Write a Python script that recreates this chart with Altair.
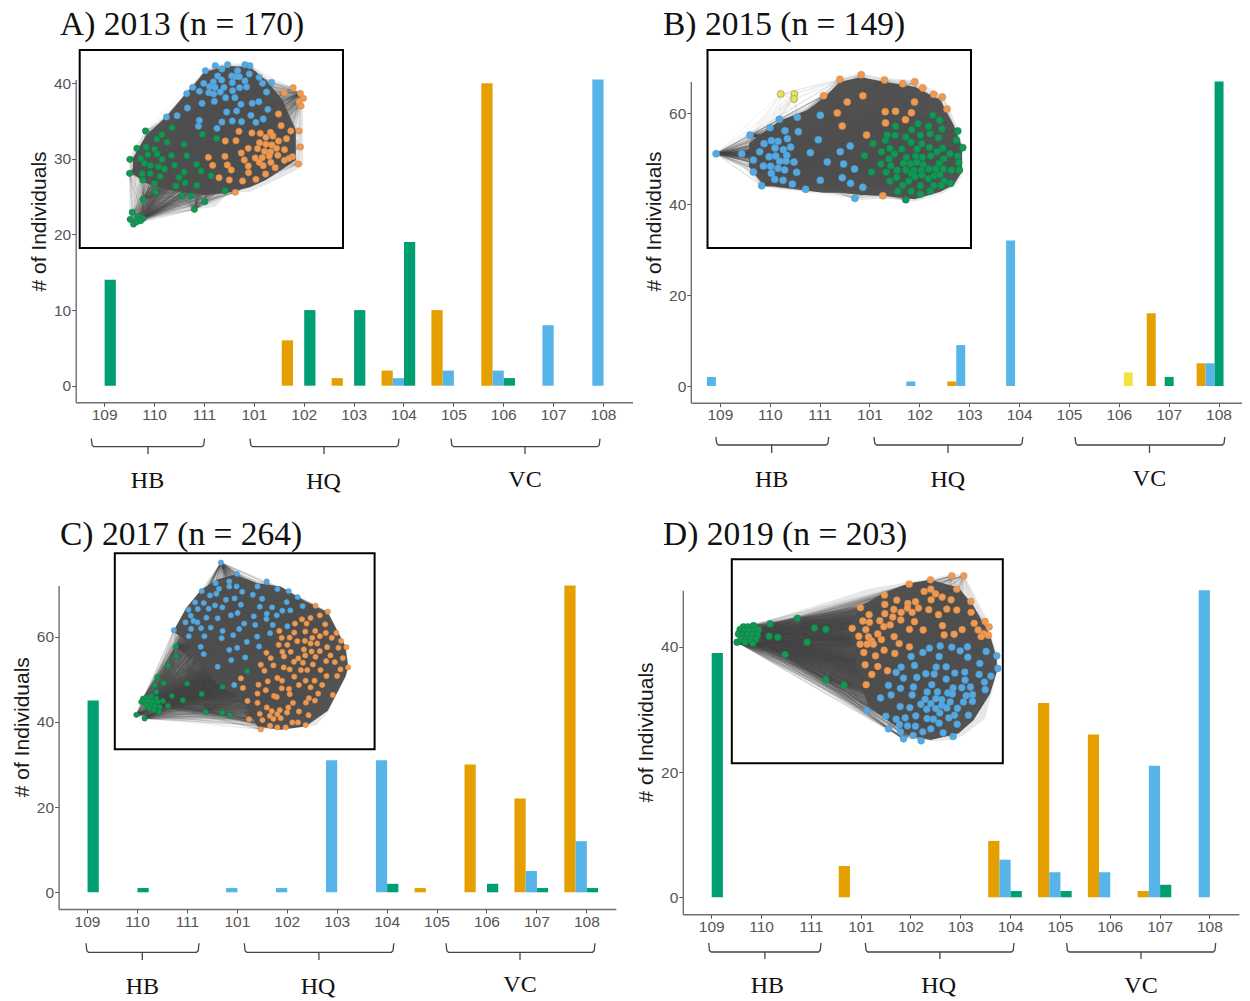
import altair as alt
import pandas as pd

alt.data_transformers.disable_max_rows()

CATS = ["109","110","111","101","102","103","104","105","106","107","108"]

# bar counts by category, one array per cluster
A_orange = [0,0,0,0,6,1,2,10,40,0,0]
A_blue   = [0,0,0,0,0,0,1,2,2,8,40.5]
A_green  = [14,0,0,0,10,10,19,0,1,0,0]
B_orange = [0,0,0,0,0,1,0,0,0,16,5]
B_blue   = [2,0,0,0,1,9,32,0,0,0,5]
B_green  = [0,0,0,0,0,0,0,0,0,2,67]
B_yellow = [0,0,0,0,0,0,0,0,3,0,0]
C_orange = [0,0,0,0,0,0,0,1,30,22,72]
C_blue   = [0,0,0,1,1,31,31,0,0,5,12]
C_green  = [45,1,0,0,0,0,2,0,2,1,1]
D_orange = [0,0,0,5,0,0,9,31,26,1,0]
D_blue   = [0,0,0,0,0,0,6,4,4,21,49]
D_green  = [39,0,0,0,0,0,1,1,0,2,0]

TITLES = ["A) 2013 (n = 170)","B) 2015 (n = 149)","C) 2017 (n = 264)","D) 2019 (n = 203)"]
GROUPS = ["HB","HQ","VC"]

# network layouts (inset units)
NA_blue = [(378,62),(408,47),(445,44),(497,44),(512,47),(428,57),(475,62),(510,72),(415,78),(457,78),(468,80),(480,80),(540,82),(427,90),(459,98),(402,96),(373,100),(497,93),(550,100),(577,97),(340,112),(360,124),(391,110),(407,112),(434,112),(481,113),(502,111),(322,131),(388,128),(403,132),(423,126),(460,122),(562,126),(439,143),(467,143),(368,160),(405,154),(485,163),(519,160),(539,155),(324,174),(442,186),(472,183),(566,178),(293,197),(261,201),(515,196),(360,211),(428,216),(459,213),(487,215),(530,217),(552,207),(357,229),(413,235)]
NA_green = [(198,243),(278,233),(247,254),(232,267),(369,253),(412,265),(263,277),(172,295),(200,291),(225,298),(314,283),(205,314),(233,312),(276,316),(322,317),(151,328),(183,325),(248,328),(195,340),(213,347),(237,350),(285,346),(351,343),(255,357),(150,370),(188,371),(212,370),(242,379),(314,366),(299,382),(365,363),(395,377),(190,390),(225,400),(289,408),(317,399),(352,406),(229,426),(437,423),(308,438),(335,438),(190,448),(376,455),(345,478),(158,487),(152,508),(175,500),(190,505),(162,522),(172,515),(183,512)]
NA_orange = [(642,113),(615,128),(664,130),(673,145),(660,155),(666,168),(598,192),(606,227),(635,243),(660,243),(479,244),(518,249),(543,250),(574,247),(560,262),(581,258),(622,266),(438,273),(470,272),(541,278),(598,273),(560,283),(578,285),(664,291),(507,295),(535,296),(592,295),(616,299),(486,309),(556,304),(574,306),(387,322),(437,319),(528,324),(549,323),(570,318),(596,316),(640,320),(616,331),(495,330),(540,337),(575,337),(552,347),(400,346),(444,345),(507,348),(630,325),(658,342),(588,353),(456,360),(559,372),(508,368),(419,383),(450,390),(530,388),(490,393),(468,427)]
NA_env = [(150,328,505),(165,290,525),(200,240,500),(260,195,490),(320,128,480),(378,60,475),(408,45,470),(445,40,430),(512,42,425),(580,95,395),(642,110,365),(672,140,345)]
NA_core = [(160,325,372),(200,255,400),(260,200,418),(320,130,428),(378,65,435),(445,48,428),(512,50,412),(560,90,390),(610,150,358),(650,240,330)]
NA_hubs = [(162,522),(190,505),(345,478),(150,370)]

NB_yellow = [(220,132),(261,132),(260,147)]
NB_orange = [(398,88),(462,74),(532,90),(587,101),(623,95),(647,114),(680,133),(706,141),(349,137),(467,137),(420,156),(622,156),(720,177),(390,189),(534,185),(565,184),(613,188),(595,209),(535,219),(405,228),(478,255),(527,437)]
NB_blue = [(26,311),(103,311),(128,255),(188,233),(216,208),(270,202),(339,196),(233,242),(273,245),(240,266),(333,269),(170,281),(192,272),(212,274),(157,305),(203,294),(228,299),(250,291),(138,330),(185,320),(205,318),(238,316),(217,334),(236,333),(260,336),(309,308),(399,305),(429,288),(168,348),(190,349),(212,355),(232,360),(360,336),(409,342),(442,357),(138,366),(192,370),(268,367),(202,388),(227,391),(405,383),(339,391),(255,402),(163,407),(295,418),(430,400),(467,412),(443,445)]
NB_green = [(677,196),(698,211),(633,221),(565,229),(664,229),(705,237),(614,239),(752,243),(540,254),(564,256),(596,261),(640,256),(669,251),(694,263),(748,271),(535,271),(612,277),(644,281),(767,293),(498,281),(548,295),(584,297),(630,297),(667,292),(707,295),(523,305),(562,312),(598,322),(626,318),(646,322),(690,305),(729,311),(752,318),(472,317),(545,326),(671,318),(710,326),(521,342),(551,347),(589,340),(610,341),(629,337),(648,344),(696,340),(755,338),(570,361),(596,360),(620,361),(642,362),(665,357),(686,357),(709,357),(757,360),(493,366),(537,367),(613,371),(645,375),(681,377),(733,360),(569,382),(623,380),(664,386),(698,374),(548,393),(605,393),(640,407),(680,406),(712,393),(731,400),(587,406),(703,406),(572,424),(612,423),(640,432),(669,423),(596,449)]
NB_env = [(26,308,315),(103,270,350),(130,248,375),(165,235,410),(216,205,418),(300,170,425),(349,130,430),(398,85,435),(462,70,450),(532,85,445),(623,90,455),(706,135,430),(725,170,420),(752,235,400),(767,290,370)]
NB_core = [(125,280,350),(165,250,402),(216,212,412),(300,180,422),(349,145,428),(398,95,428),(462,82,435),(532,95,438),(623,110,448),(700,150,425),(740,225,405),(765,290,365)]
NB_hubs = [(26,311),(103,311),(128,255),(138,366),(163,407)]

NC_blue = [(320,28),(368,62),(458,85),(304,90),(345,85),(262,114),(314,107),(345,100),(367,100),(430,100),(490,108),(524,114),(384,116),(416,125),(287,127),(335,140),(361,136),(444,137),(551,132),(306,122),(242,148),(268,150),(302,157),(324,163),(380,155),(437,161),(474,163),(518,147),(566,159),(222,170),(250,168),(283,167),(229,188),(505,173),(529,172),(458,182),(350,187),(370,180),(419,190),(488,187),(213,208),(237,204),(276,194),(310,196),(457,198),(249,208),(390,212),(423,216),(476,216),(520,220),(178,232),(230,228),(260,226),(289,224),(375,228),(325,234),(223,250),(270,250),(322,256),(357,247),(429,251),(468,241),(398,267),(259,282),(369,285),(345,291),(435,281),(268,304),(351,322),(393,314),(310,342),(360,397)]
NC_orange = [(605,158),(642,176),(618,187),(590,195),(564,199),(543,212),(578,212),(634,214),(496,234),(541,239),(574,236),(604,234),(636,240),(668,240),(527,254),(503,255),(550,265),(573,264),(595,255),(618,250),(654,255),(682,264),(494,276),(520,276),(590,272),(610,272),(640,283),(674,285),(698,283),(505,297),(530,297),(570,290),(593,296),(618,295),(650,308),(457,300),(470,316),(510,311),(553,317),(574,308),(605,312),(637,325),(687,316),(440,336),(478,338),(540,327),(567,330),(597,335),(663,328),(703,344),(509,344),(527,350),(561,352),(580,352),(620,352),(451,354),(680,350),(380,377),(490,376),(541,372),(575,384),(602,384),(638,370),(670,370),(386,406),(433,396),(461,386),(504,384),(555,397),(590,404),(625,397),(430,423),(455,413),(480,430),(503,407),(525,409),(527,425),(585,437),(613,423),(657,427),(400,445),(430,451),(488,433),(537,451),(576,450),(603,444),(458,465),(473,476),(497,473),(523,465),(555,477),(437,484),(467,490),(490,485),(519,480),(584,488),(405,500),(445,503),(478,499),(500,497),(535,510),(440,531),(468,520),(490,525),(515,525),(552,510),(575,518)]
NC_green = [(184,281),(185,310),(161,338),(128,373),(120,398),(147,392),(218,393),(325,403),(399,355),(262,424),(172,430),(125,418),(205,443),(274,478),(323,481),(347,488),(65,487),(90,498),(85,438),(95,435),(110,432),(125,437),(80,448),(90,447),(102,445),(115,447),(130,448),(145,445),(95,458),(108,457),(120,460),(135,463),(105,468),(118,472),(133,478),(160,460)]
NC_env = [(62,485,490),(90,430,500),(178,232,495),(250,135,498),(320,25,498),(368,60,500),(440,85,533),(458,85,532),(605,155,520),(642,176,480),(698,283,370),(705,340,345)]
NC_core = [(178,232,238),(215,165,262),(260,110,335),(310,78,395),(360,65,425),(400,78,470),(430,90,522),(500,100,532),(575,145,522),(642,178,475),(695,280,372),(703,340,345)]
NC_hubs = [(65,487),(90,498),(105,450),(135,463),(85,438),(184,281),(218,393),(262,424),(325,403),(274,478)]

ND_orange = [(532,75),(596,62),(660,50),(696,50),(675,90),(597,90),(577,97),(458,108),(611,104),(631,114),(658,122),(717,127),(495,123),(459,136),(528,133),(551,128),(598,122),(386,146),(412,167),(486,151),(527,147),(560,147),(591,152),(645,150),(675,153),(718,160),(459,164),(508,160),(541,160),(620,167),(393,186),(413,190),(444,185),(483,174),(507,183),(548,188),(727,193),(760,187),(361,208),(402,212),(456,203),(475,198),(632,200),(772,204),(533,211),(574,213),(691,212),(739,213),(381,232),(410,234),(438,225),(487,233),(419,246),(449,242),(637,228),(667,226),(756,225),(748,233),(770,229),(385,256),(406,256),(425,256),(502,254),(533,264),(457,274),(396,281),(489,284),(431,291),(400,318),(438,323),(467,336),(420,347),(403,378)]
ND_blue = [(593,268),(625,261),(660,265),(685,276),(707,264),(573,281),(763,278),(538,293),(622,293),(708,295),(795,291),(744,314),(548,320),(508,325),(613,325),(643,324),(798,329),(493,341),(582,345),(607,346),(669,343),(699,340),(742,347),(777,352),(515,358),(555,356),(643,361),(700,364),(758,370),(600,378),(664,388),(690,387),(716,385),(470,380),(506,389),(545,385),(760,393),(586,400),(617,400),(648,403),(662,406),(478,409),(541,409),(703,411),(722,408),(446,418),(580,422),(612,420),(630,423),(655,430),(695,430),(722,428),(505,444),(534,447),(567,437),(597,435),(630,440),(677,449),(585,452),(612,450),(645,448),(405,456),(624,463),(668,470),(710,470),(462,473),(552,472),(586,480),(605,482),(651,478),(520,478),(493,482),(503,498),(527,502),(551,503),(622,494),(676,497),(470,511),(597,511),(506,520),(573,520),(634,523),(544,531),(664,534),(515,541),(568,547)]
ND_green = [(115,195),(197,178),(248,207),(282,211),(112,232),(138,235),(226,250),(160,287),(282,363),(337,379),(16,250),(35,204),(48,204),(65,200),(25,212),(38,215),(52,215),(67,215),(80,212),(20,225),(33,228),(47,228),(62,228),(77,228),(30,240),(44,242),(58,240),(72,240),(63,253),(40,250)]
ND_env = [(16,210,250),(120,180,310),(200,155,350),(300,125,405),(405,90,460),(532,68,530),(596,58,548),(660,45,545),(696,45,530),(760,170,480),(798,290,330)]
ND_core = [(355,205,215),(385,140,372),(410,128,442),(458,100,478),(532,72,532),(596,62,545),(680,85,525),(725,140,485),(775,230,405),(795,300,340)]
ND_hubs = [(16,250),(60,215),(35,204),(45,228),(72,240),(115,195),(197,178),(226,250),(160,287),(282,363),(337,379),(112,232),(248,207)]

BAR_COLORS = {"orange":"#E69F00","blue":"#56B4E9","green":"#009E73","yellow":"#F0E442"}
NODE_COLORS = {"orange":"#EE9A52","blue":"#56A9E0","green":"#0E9A55","yellow":"#E8E060"}
NODE_STROKE = {"orange":"#D98A48","blue":"#4A9BD0","green":"#1B7A45","yellow":"#8A8A40"}

CELLX = [(8, 627), (635, 607)]
CELLY = [(8, 497), (505, 493)]

PANELS = [
 dict(col=0,row=0,title=TITLES[0],tx=60,tb=35,series=dict(orange=A_orange,blue=A_blue,green=A_green),slots=["orange","blue","green","none"],
      left=75.7,right=632.5,pad=0.13,bandalign=0.5,bottom=402.3,y0=385.7,unit=7.56,ymax=40.5,ticks=[0,10,20,30,40],ty=221,tox=-36.5,
      inset=(79.7,343,50,248),units=(792,594),nodes=dict(blue=NA_blue,green=NA_green,orange=NA_orange),env=NA_env,core=NA_core,hubs=NA_hubs,size=40,
      br=dict(line=446.7,tip=438.7,stem=454,spans=[(91.3,204.5,148),(250,399,324),(451,600,525)],lab=[(147.5,481),(323.6,482),(525,479.5)])),
 dict(col=1,row=0,title=TITLES[1],tx=663,tb=35,series=dict(orange=B_orange,blue=B_blue,green=B_green,yellow=B_yellow),slots=["orange","blue","green","yellow","none"],
      left=690.8,right=1241.5,pad=0.0715,bandalign=1,bottom=402.7,y0=386,unit=4.545,ymax=67,ticks=[0,20,40,60],ty=221,tox=-36,
      inset=(707.5,971,50,248),units=(792,594),nodes=dict(blue=NB_blue,green=NB_green,orange=NB_orange,yellow=NB_yellow),env=NB_env,core=NB_core,hubs=NB_hubs,size=50,
      br=dict(line=445,tip=437,stem=453,spans=[(715.9,828.7,771.7),(874,1022.8,948),(1075,1224.8,1149.5)],lab=[(771.7,480),(947.8,480),(1149.5,478.7)])),
 dict(col=0,row=1,title=TITLES[2],tx=60,tb=545,series=dict(orange=C_orange,blue=C_blue,green=C_green),slots=["orange","blue","green","none"],
      left=58.6,right=615.8,pad=0.13,bandalign=0.5,bottom=909,y0=892.3,unit=4.26,ymax=72,ticks=[0,20,40,60],ty=726.7,tox=-36.5,
      inset=(114.8,374.6,553.3,749.3),units=(783,591),nodes=dict(blue=NC_blue,green=NC_green,orange=NC_orange),env=NC_env,core=NC_core,hubs=NC_hubs,size=28,
      br=dict(line=952.3,tip=943.3,stem=960,spans=[(86,199,142.3),(244.3,393.8,318.9),(446,595,520)],lab=[(142.3,986.7),(318,987),(520,985)])),
 dict(col=1,row=1,title=TITLES[3],tx=663,tb=545,series=dict(orange=D_orange,blue=D_blue,green=D_green),slots=["orange","blue","green","none"],
      left=682.8,right=1238.8,pad=0.13,bandalign=0.5,bottom=914.3,y0=897.3,unit=6.265,ymax=49,ticks=[0,20,40],ty=732,tox=-36,
      inset=(731.8,1002.8,559.3,763.3),units=(813,615),nodes=dict(blue=ND_blue,green=ND_green,orange=ND_orange),env=ND_env,core=ND_core,hubs=ND_hubs,size=46,
      br=dict(line=952,tip=943,stem=959,spans=[(708.7,821,764.9),(865.3,1014,939.9),(1066.6,1215.7,1141)],lab=[(767.3,986),(938.7,986),(1141,986)])),
]

def panel(p):
    ox, W = CELLX[p["col"]]
    oy, H = CELLY[p["row"]]
    L, R = p["left"]-ox, p["right"]-ox
    B = p["bottom"]-oy
    ymin = (p["y0"]-p["bottom"])/p["unit"]
    T = p["y0"]-p["ymax"]*p["unit"]-oy

    rows = [dict(site=c, cluster=k, count=v) for k, vals in p["series"].items() for c, v in zip(CATS, vals) if v > 0]
    bars = alt.Chart(pd.DataFrame(rows)).mark_bar().encode(
        x=alt.X("site:N", scale=alt.Scale(domain=CATS, range=[L, R], paddingInner=0.1, paddingOuter=p["pad"], align=p["bandalign"]),
                axis=alt.Axis(title=None, labelAngle=0, offset=-(H-B), domainColor="#6f6f6f", domainWidth=1.4,
                              tickColor="#555555", tickSize=4, labelColor="#555555", labelFont="Liberation Sans",
                              labelFontSize=15.5, labelPadding=1, grid=False)),
        xOffset=alt.XOffset("cluster:N", scale=alt.Scale(domain=p["slots"], paddingInner=0, paddingOuter=0)),
        y=alt.Y("count:Q", stack=None, scale=alt.Scale(domain=[ymin, p["ymax"]], range=[B, T], nice=False, zero=False),
                axis=alt.Axis(title="# of Individuals", values=p["ticks"], offset=-L, domainColor="#6f6f6f", domainWidth=1.4,
                              tickColor="#555555", tickSize=4, labelColor="#555555", labelFont="Liberation Sans",
                              labelFontSize=15.5, labelPadding=1, grid=False, titleFont="Liberation Sans",
                              titleFontSize=21, titleFontWeight="normal", titleColor="#1a1a1a",
                              titleX=p["tox"], titleY=p["ty"]-oy, titleAlign="center", titleBaseline="middle")),
        color=alt.Color("cluster:N", scale=alt.Scale(domain=list(BAR_COLORS), range=list(BAR_COLORS.values())), legend=None),
    )

    # annotation scales in the figure's own frame
    fx = alt.Scale(domain=[ox, ox+W], range=[0, W], nice=False, zero=False)
    fy = alt.Scale(domain=[oy, oy+H], range=[0, H], nice=False, zero=False)
    br = p["br"]
    path = []
    for i, (a, b, s) in enumerate(br["spans"]):
        for j, (x, y) in enumerate([(a, br["tip"]), (a+0.8, br["line"]-1.5), (a+2.5, br["line"]), (b-2.5, br["line"]), (b-0.8, br["line"]-1.5), (b, br["tip"])]):
            path.append(dict(x=x, y=y, id=f"s{i}", o=j))
        path.append(dict(x=s, y=br["line"], id=f"t{i}", o=0))
        path.append(dict(x=s, y=br["stem"], id=f"t{i}", o=1))
    brackets = alt.Chart(pd.DataFrame(path)).mark_line(color="#444444", strokeWidth=1.3).encode(
        x=alt.X("x:Q", scale=fx, axis=None), y=alt.Y("y:Q", scale=fy, axis=None), detail="id:N", order="o:Q")
    labs = pd.DataFrame([dict(x=x, y=y, t=t) for (x, y), t in zip(br["lab"], GROUPS)])
    group_text = alt.Chart(labs).mark_text(font="Liberation Serif", fontSize=24, color="#111111", baseline="middle").encode(
        x=alt.X("x:Q", scale=fx, axis=None), y=alt.Y("y:Q", scale=fy, axis=None), text="t:N")
    heading = alt.Chart(pd.DataFrame([dict(x=p["tx"], y=p["tb"], t=p["title"])])).mark_text(
        font="Liberation Serif", fontSize=33.5, color="#111111", baseline="alphabetic", align="left").encode(
        x=alt.X("x:Q", scale=fx, axis=None), y=alt.Y("y:Q", scale=fy, axis=None), text="t:N")

    x0, x1, y0, y1 = p["inset"]
    box = alt.Chart(pd.DataFrame([dict(a=x0, b=x1, c=y0, d=y1)])).mark_rect(fill="white", stroke="black", strokeWidth=2).encode(
        x=alt.X("a:Q", scale=fx, axis=None), x2="b:Q", y=alt.Y("c:Q", scale=fy, axis=None), y2="d:Q")

    ux, uy = p["units"]
    nx = alt.Scale(domain=[0, ux], range=[x0-ox, x1-ox], nice=False, zero=False)
    ny = alt.Scale(domain=[0, uy], range=[y0-oy, y1-oy], nice=False, zero=False)
    nxe = alt.X("x:Q", scale=nx, axis=None)
    nye = alt.Y("y:Q", scale=ny, axis=None)
    env = alt.Chart(pd.DataFrame(p["env"], columns=["x","y","y2"])).mark_area(color="#b0b0b0", opacity=0.3).encode(x=nxe, y=nye, y2="y2:Q")
    core = alt.Chart(pd.DataFrame(p["core"], columns=["x","y","y2"])).mark_area(color="#4d4d4d", opacity=0.97).encode(x=nxe, y=nye, y2="y2:Q")

    # edges: every node reached from the listed hubs and from each sixth node of the network
    targets = [pt for k, pts in p["nodes"].items() if k != "yellow" for pt in pts]
    sources = list(p["hubs"]) + targets[::6]
    edges = [dict(x=h[0], y=h[1], x2=t[0], y2=t[1]) for h in sources for t in targets]
    if "yellow" in p["nodes"]:
        edges += [dict(x=h[0], y=h[1], x2=t[0], y2=t[1]) for h in p["nodes"]["yellow"] for t in p["nodes"]["blue"][:6] + p["nodes"]["orange"][:2] + p["nodes"]["yellow"]]
    spokes = alt.Chart(pd.DataFrame(edges)).mark_rule(color="#555555", strokeWidth=0.4, opacity=0.22).encode(
        x=nxe, x2="x2:Q", y=nye, y2="y2:Q")

    node_rows = [dict(x=x, y=y, cluster=k) for k, pts in p["nodes"].items() for x, y in pts]
    nodes = alt.Chart(pd.DataFrame(node_rows)).mark_circle(opacity=1, size=p["size"], strokeWidth=0.6).encode(
        x=nxe, y=nye,
        color=alt.Color("cluster:N", scale=alt.Scale(domain=list(NODE_COLORS), range=list(NODE_COLORS.values())), legend=None),
        stroke=alt.Stroke("cluster:N", scale=alt.Scale(domain=list(NODE_STROKE), range=list(NODE_STROKE.values())), legend=None))

    return alt.layer(bars, brackets, group_text, heading, box, env, spokes, core, nodes).resolve_scale(
        x="independent", y="independent", color="independent", stroke="independent", xOffset="independent"
    ).properties(width=W, height=H)

chart = alt.concat(*[panel(p) for p in PANELS], columns=2, spacing=0, align="each", bounds="full").properties(
    padding=0, background="white"
).configure_view(stroke=None)

chart.save("out.html", embed_options={"renderer": "svg", "actions": False})
